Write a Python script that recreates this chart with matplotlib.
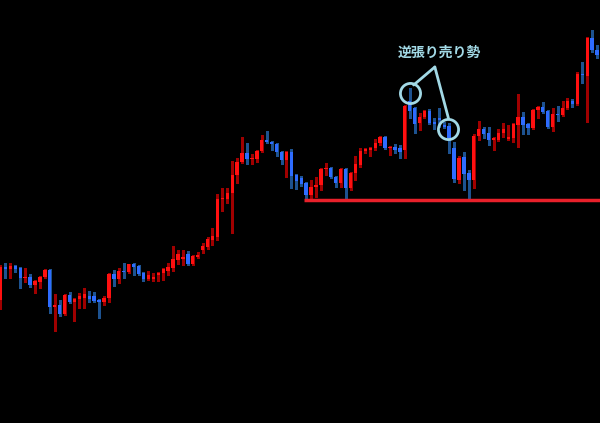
import numpy as np
import matplotlib.pyplot as plt
from matplotlib import rcParams

rcParams['font.family'] = ['Noto Sans CJK JP', 'DejaVu Sans']

# OHLC prices (arbitrary price units, one candle per bar)
opens = [200, 233, 231, 234, 232, 222, 223, 215, 218, 223,
         230, 193, 195, 186, 205, 198, 201, 202, 204, 204,
         200, 198, 202, 226, 221, 229, 228, 236, 234, 227,
         221, 221, 225, 227, 229, 232, 240, 241, 246, 236,
         243, 250, 253, 260, 263, 301, 301, 307, 325, 338,
         347, 341, 341, 349, 360, 358, 356, 348, 340, 348,
         325, 322, 317, 305, 313, 315, 331, 332, 323, 317,
         331, 312, 327, 335, 349, 350, 352, 357, 363, 352,
         353, 352, 350, 399, 392, 377, 383, 389, 378, 382,
         375, 374, 352, 320, 343, 327, 320, 364, 371, 367,
         360, 360, 367, 361, 362, 375, 383, 376, 372, 390,
         393, 389, 373, 386, 385, 392, 399, 396, 426, 424,
         462, 450, 445]
highs = [235, 237, 237, 235, 233, 232, 226, 220, 224, 231,
         231, 206, 200, 206, 208, 202, 207, 212, 209, 208,
         201, 204, 227, 230, 232, 237, 236, 237, 235, 228,
         229, 227, 228, 232, 237, 254, 250, 250, 249, 245,
         248, 257, 263, 272, 306, 312, 312, 339, 342, 363,
         357, 346, 350, 365, 369, 359, 357, 349, 349, 351,
         326, 324, 318, 320, 323, 332, 337, 333, 324, 332,
         332, 328, 344, 352, 352, 353, 361, 364, 364, 354,
         356, 355, 395, 412, 393, 387, 390, 391, 382, 392,
         378, 377, 358, 344, 348, 330, 366, 379, 373, 373,
         363, 371, 377, 375, 377, 406, 388, 377, 391, 394,
         398, 390, 392, 394, 399, 402, 401, 428, 438, 463,
         470, 455, 448]
lows = [191, 222, 222, 228, 212, 218, 213, 207, 212, 222,
        187, 169, 184, 185, 197, 179, 192, 192, 198, 198,
        182, 195, 198, 214, 217, 222, 227, 225, 225, 219,
        220, 219, 219, 220, 225, 229, 236, 235, 235, 235,
        242, 247, 251, 255, 260, 289, 297, 267, 317, 337,
        336, 336, 338, 348, 357, 350, 344, 336, 323, 312,
        311, 314, 302, 302, 303, 310, 325, 322, 313, 313,
        299, 310, 320, 333, 347, 344, 350, 355, 351, 345,
        347, 342, 342, 382, 367, 370, 382, 376, 371, 373,
        372, 347, 318, 317, 310, 299, 312, 360, 362, 355,
        350, 359, 363, 360, 358, 353, 366, 366, 371, 382,
        387, 372, 369, 379, 384, 391, 393, 395, 417, 378,
        448, 442, 440]
closes = [233, 231, 234, 231, 222, 223, 215, 219, 223, 230,
          193, 195, 186, 205, 198, 201, 204, 206, 201, 199,
          198, 202, 226, 221, 229, 228, 236, 233, 226, 221,
          225, 223, 227, 231, 233, 241, 246, 243, 236, 244,
          245, 254, 261, 264, 301, 302, 307, 325, 338, 347,
          341, 342, 349, 360, 358, 356, 348, 340, 348, 324,
          319, 316, 305, 313, 315, 331, 332, 323, 317, 331,
          312, 327, 336, 349, 351, 352, 357, 363, 352, 353,
          350, 348, 394, 389, 376, 383, 389, 377, 376, 380,
          373, 362, 321, 342, 326, 320, 364, 371, 366, 360,
          362, 367, 371, 363, 376, 383, 375, 372, 390, 393,
          388, 373, 386, 385, 392, 399, 396, 426, 425, 462,
          450, 445, 443]

# horizontal support level and annotation
support_level = 300
support_start = 61.5
label = '逆張り売り勢'
marked = [(83, 407), (90.8, 371)]
label_pos = (89, 447)
apex = (88.1, 433)
line_ends = [(83.8, 415), (90.9, 381)]

red, blue = '#ff1010', '#2e6cff'
red_wick, blue_wick = '#a00000', '#1d5290'
note_color = '#a2d9e6'

o = np.array(opens, float)
h = np.array(highs, float)
l = np.array(lows, float)
c = np.array(closes, float)
x = np.arange(len(o))
up = c >= o

fig = plt.figure(figsize=(6, 4.23), dpi=100, facecolor='black')
ax = fig.add_axes([0, 0, 1, 1], facecolor='black')

ax.vlines(x[up], l[up], h[up], color=red_wick, linewidth=1.0,
          antialiased=False, zorder=1)
ax.vlines(x[~up], l[~up], h[~up], color=blue_wick, linewidth=1.0,
          antialiased=False, zorder=1)

body = np.maximum(np.abs(c - o), 1.5)
bottom = np.minimum(o, c)
ax.bar(x[up], body[up], bottom=bottom[up], width=0.68, color=red,
       linewidth=0, antialiased=False, zorder=2)
ax.bar(x[~up], body[~up], bottom=bottom[~up], width=0.68, color=blue,
       linewidth=0, antialiased=False, zorder=2)

ax.hlines(support_level, support_start, len(o) + 5, color='#e8202a',
          linewidth=2.5, zorder=3)

for cx, cy in marked:
    ax.plot(cx, cy, 'o', markersize=14.5, markerfacecolor='none',
            markeredgecolor=note_color, markeredgewidth=2, zorder=4)
for ex, ey in line_ends:
    ax.plot([apex[0], ex], [apex[1], ey], color=note_color, linewidth=2,
            solid_capstyle='round', zorder=4)
ax.text(label_pos[0], label_pos[1], label, color=note_color, fontsize=10,
        fontweight='bold', ha='center', va='center')

ax.set_xlim(-0.1, 121.6)
ax.set_ylim(77, 500)
ax.axis('off')

fig.savefig('out.png', dpi=100, facecolor='black')
